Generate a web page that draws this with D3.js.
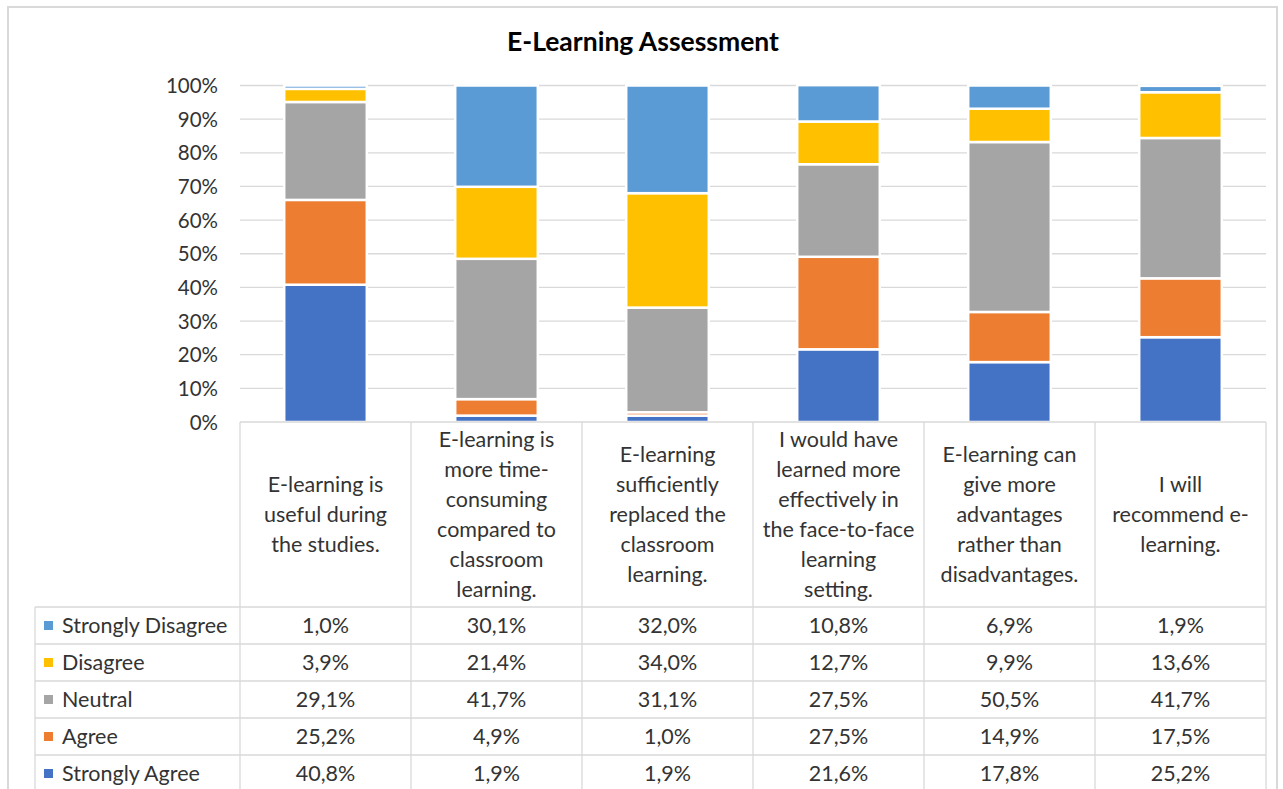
<!DOCTYPE html>
<html>
<head>
<meta charset="utf-8">
<script src="https://cdn.jsdelivr.net/npm/d3@7"></script>
<style>
  html, body { margin: 0; padding: 0; background: #fff; }
  svg { display: block; }
  text { font-family: Lato, "Open Sans", sans-serif; fill: #333; }
</style>
</head>
<body>
<svg id="chart" width="1283" height="789"></svg>
<script>
// ---------------- DATA ----------------
const title = "E-Learning Assessment";
const categories = [
  ["E-learning is", "useful during", "the studies."],
  ["E-learning is", "more time-", "consuming", "compared to", "classroom", "learning."],
  ["E-learning", "sufficiently", "replaced the", "classroom", "learning."],
  ["I would have", "learned more", "effectively in", "the face-to-face", "learning", "setting."],
  ["E-learning can", "give more", "advantages", "rather than", "disadvantages."],
  ["I will", "recommend e-", "learning."]
];
// series in table order (top row first)
const seriesNames = ["Strongly Disagree", "Disagree", "Neutral", "Agree", "Strongly Agree"];
const stronglyDisagree = [1.0, 30.1, 32.0, 10.8, 6.9, 1.9];
const disagree         = [3.9, 21.4, 34.0, 12.7, 9.9, 13.6];
const neutral          = [29.1, 41.7, 31.1, 27.5, 50.5, 41.7];
const agree            = [25.2, 4.9, 1.0, 27.5, 14.9, 17.5];
const stronglyAgree    = [40.8, 1.9, 1.9, 21.6, 17.8, 25.2];
const seriesValues = [stronglyDisagree, disagree, neutral, agree, stronglyAgree];
const seriesColors = ["#5B9BD5", "#FFC000", "#A5A5A5", "#ED7D31", "#4472C4"];
const yTicks = [0, 10, 20, 30, 40, 50, 60, 70, 80, 90, 100];

// ---------------- LAYOUT ----------------
const svg = d3.select("#chart");
const W = 1283, H = 789;
const plotLeft = 240, plotRight = 1266, plotTop = 85.5, plotBottom = 422;
const headerBottom = 607, rowH = 37, legendLeft = 35;
const gridColor = "#d9d9d9";
const fontSize = 21.5;
const axisFontSize = 20.5;

// outer chart border
svg.append("rect")
  .attr("x", 8).attr("y", 7).attr("width", 1269).attr("height", H + 20)
  .attr("fill", "#fff").attr("stroke", "#d9d9d9").attr("stroke-width", 2);

// title
svg.append("text")
  .attr("x", 643).attr("y", 51)
  .attr("text-anchor", "middle")
  .style("font-size", "26.5px").style("font-weight", "bold")
  .style("fill", "#000")
  .text(title);

const x = d3.scaleBand()
  .domain(d3.range(categories.length))
  .range([plotLeft, plotRight])
  .paddingInner(0.517).paddingOuter(0.2585);

const xCol = d3.scaleBand()
  .domain(d3.range(categories.length))
  .range([plotLeft, plotRight]);

const y = d3.scaleLinear().domain([0, 100]).range([plotBottom, plotTop]);

// gridlines
svg.append("g").selectAll("line")
  .data(yTicks.filter(t => t > 0))
  .join("line")
  .attr("x1", plotLeft).attr("x2", plotRight)
  .attr("y1", d => y(d)).attr("y2", d => y(d))
  .attr("stroke", gridColor).attr("stroke-width", 1.3);

// y axis labels
const yAxis = d3.axisLeft(y).tickValues(yTicks).tickFormat(d => d + "%").tickSize(0).tickPadding(0);
const gy = svg.append("g").attr("transform", `translate(${218},0)`).call(yAxis);
gy.select(".domain").remove();
gy.selectAll("text")
  .style("font-family", "Lato, 'Open Sans', sans-serif")
  .style("font-size", axisFontSize + "px")
  .style("fill", "#333")
  .attr("dy", "0.35em");

// stacked data (bottom: Strongly Agree)
const stackKeys = seriesNames.slice().reverse();
const rows = categories.map((c, i) => {
  const o = { idx: i };
  seriesNames.forEach((s, k) => o[s] = seriesValues[k][i]);
  return o;
});
const stacked = d3.stack().keys(stackKeys)(rows);
const colorOf = d3.scaleOrdinal().domain(seriesNames).range(seriesColors);

svg.append("g").selectAll("g")
  .data(stacked)
  .join("g")
  .attr("fill", d => colorOf(d.key))
  .selectAll("rect")
  .data(d => d)
  .join("rect")
  .attr("x", d => x(d.data.idx))
  .attr("width", x.bandwidth())
  .attr("y", d => y(d[1]))
  .attr("height", d => Math.max(0, y(d[0]) - y(d[1])))
  .attr("stroke", "#fff")
  .attr("stroke-width", 2.5);

// ---------------- DATA TABLE ----------------
const tableBottom = headerBottom + rowH * seriesNames.length;
const tg = svg.append("g");
// horizontal lines
tg.append("line").attr("x1", plotLeft).attr("x2", plotRight)
  .attr("y1", plotBottom).attr("y2", plotBottom)
  .attr("stroke", gridColor).attr("stroke-width", 1.3);
d3.range(seriesNames.length + 1).forEach(r => {
  tg.append("line").attr("x1", legendLeft).attr("x2", plotRight)
    .attr("y1", headerBottom + r * rowH).attr("y2", headerBottom + r * rowH)
    .attr("stroke", gridColor).attr("stroke-width", 1.3);
});
// vertical lines
tg.append("line").attr("x1", legendLeft).attr("x2", legendLeft)
  .attr("y1", headerBottom).attr("y2", tableBottom)
  .attr("stroke", gridColor).attr("stroke-width", 1.3);
d3.range(categories.length + 1).forEach(c => {
  const xx = c < categories.length ? xCol(c) : plotRight;
  tg.append("line").attr("x1", xx).attr("x2", xx)
    .attr("y1", plotBottom).attr("y2", tableBottom)
    .attr("stroke", gridColor).attr("stroke-width", 1.3);
});

// header category labels
const headerMid = (plotBottom + headerBottom) / 2;
const lineH = 30;
categories.forEach((lines, i) => {
  const cx = xCol(i) + xCol.bandwidth() / 2;
  const t = tg.append("text")
    .attr("text-anchor", "middle")
    .style("font-size", fontSize + "px");
  lines.forEach((ln, k) => {
    t.append("tspan")
      .attr("x", cx)
      .attr("y", headerMid + (k - (lines.length - 1) / 2) * lineH)
      .attr("dy", "0.35em")
      .text(ln);
  });
});

// rows
const fmt = v => d3.format(".1f")(v).replace(".", ",") + "%";
seriesNames.forEach((s, r) => {
  const cy = headerBottom + r * rowH + rowH / 2;
  tg.append("rect").attr("x", 44).attr("y", cy - 4.5).attr("width", 9).attr("height", 9)
    .attr("fill", seriesColors[r]);
  tg.append("text").attr("x", 62).attr("y", cy).attr("dy", "0.35em")
    .style("font-size", fontSize + "px").text(s);
  seriesValues[r].forEach((v, i) => {
    tg.append("text")
      .attr("x", xCol(i) + xCol.bandwidth() / 2).attr("y", cy).attr("dy", "0.35em")
      .attr("text-anchor", "middle")
      .style("font-size", fontSize + "px").text(fmt(v));
  });
});
</script>
</body>
</html>
